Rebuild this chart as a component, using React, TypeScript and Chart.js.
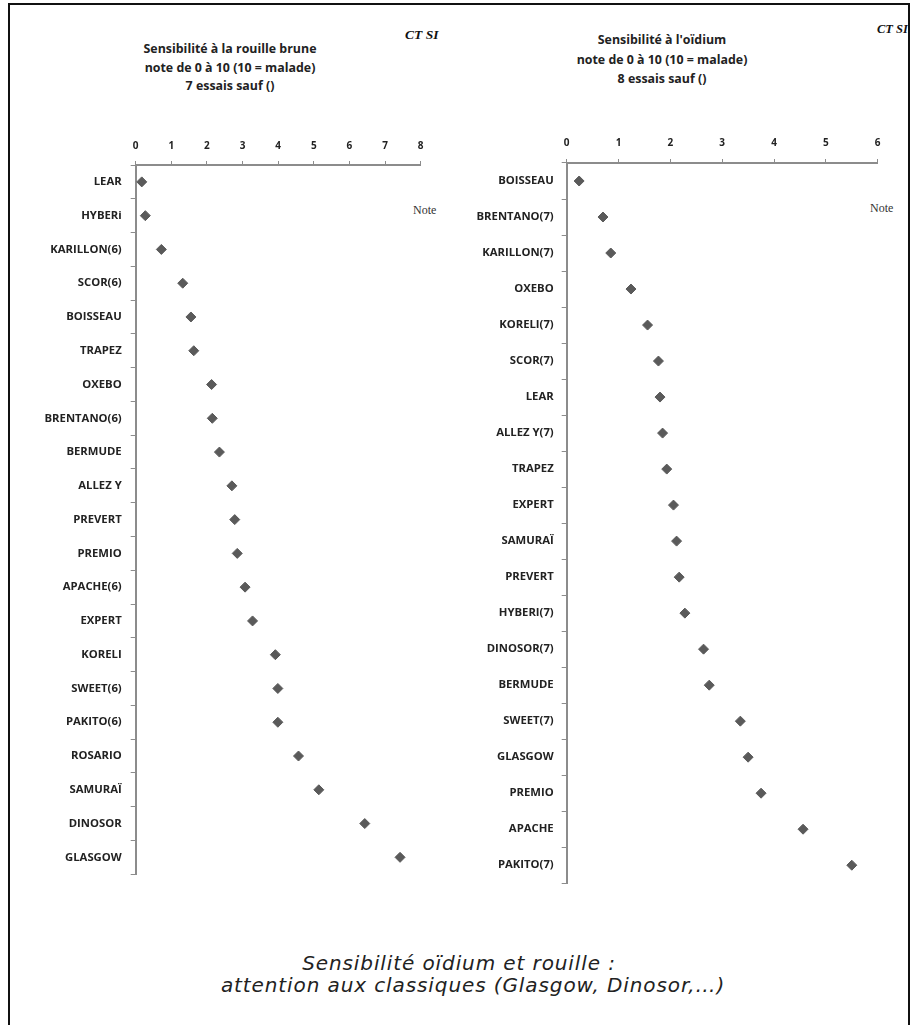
import React, { useEffect, useRef } from "react";
import { Chart, registerables } from "chart.js";

Chart.register(...registerables);

const rustLabels = [
  "LEAR", "HYBERi", "KARILLON(6)", "SCOR(6)", "BOISSEAU", "TRAPEZ", "OXEBO",
  "BRENTANO(6)", "BERMUDE", "ALLEZ Y", "PREVERT", "PREMIO", "APACHE(6)", "EXPERT",
  "KORELI", "SWEET(6)", "PAKITO(6)", "ROSARIO", "SAMURAÏ", "DINOSOR", "GLASGOW",
];
const rustValues = [
  0.17, 0.27, 0.72, 1.32, 1.55, 1.63, 2.13, 2.15, 2.35, 2.7, 2.78, 2.85, 3.07, 3.28,
  3.92, 3.99, 3.99, 4.57, 5.14, 6.43, 7.42,
];
const rustMax = 8;

const mildewLabels = [
  "BOISSEAU", "BRENTANO(7)", "KARILLON(7)", "OXEBO", "KORELI(7)", "SCOR(7)", "LEAR",
  "ALLEZ Y(7)", "TRAPEZ", "EXPERT", "SAMURAÏ", "PREVERT", "HYBERI(7)", "DINOSOR(7)",
  "BERMUDE", "SWEET(7)", "GLASGOW", "PREMIO", "APACHE", "PAKITO(7)",
];
const mildewValues = [
  0.24, 0.7, 0.85, 1.24, 1.56, 1.77, 1.8, 1.85, 1.93, 2.06, 2.12, 2.17, 2.28, 2.64,
  2.75, 3.35, 3.5, 3.75, 4.56, 5.5,
];
const mildewMax = 6;

const rustTitle = ["Sensibilité à la rouille brune", "note de 0 à 10 (10 = malade)", "7 essais sauf ()"];
const mildewTitle = ["Sensibilité à l'oïdium", "note de 0 à 10 (10 = malade)", "8 essais sauf ()"];
const caption = ["Sensibilité oïdium et rouille :", "attention aux classiques (Glasgow, Dinosor,…)"];

const LABEL_FONT = "'Open Sans', 'Noto Sans', sans-serif";
const AXIS = "#8c8c8c";
const TEXT = "#222";
const MARK = "#5a5a5a";

type PanelProps = {
  labels: string[];
  values: number[];
  max: number;
  left: number;
  top: number;
  width: number;
  height: number;
  yWidth: number;
  padRight: number;
  padBottom: number;
  xPad: number;
  yPad: number;
};

function Panel(p: PanelProps) {
  const ref = useRef<HTMLCanvasElement | null>(null);
  useEffect(() => {
    if (!ref.current) return;
    const chart = new Chart(ref.current, {
      type: "line",
      data: {
        labels: p.labels,
        datasets: [
          {
            data: p.values,
            showLine: false,
            pointStyle: "rectRot",
            pointRadius: 5,
            pointHoverRadius: 5,
            pointBackgroundColor: MARK,
            pointBorderColor: MARK,
            pointBorderWidth: 1,
          },
        ],
      },
      options: {
        indexAxis: "y",
        responsive: false,
        animation: false,
        layout: { padding: { left: 0, top: 0, right: p.padRight, bottom: p.padBottom } },
        plugins: { legend: { display: false }, tooltip: { enabled: false }, title: { display: false } },
        scales: {
          x: {
            type: "linear",
            position: "top",
            min: 0,
            max: p.max,
            ticks: {
              stepSize: 1,
              padding: p.xPad,
              color: TEXT,
              font: { family: LABEL_FONT, size: 10, weight: "bold" },
            },
            grid: { drawOnChartArea: false, drawTicks: true, tickLength: 4, color: AXIS, lineWidth: 1 },
            border: { color: AXIS, width: 2 },
            afterFit: (s: any) => {
              s.height = 45;
            },
          },
          y: {
            type: "category",
            offset: true,
            ticks: {
              autoSkip: false,
              padding: p.yPad,
              color: TEXT,
              font: { family: LABEL_FONT, size: 11.3, weight: "bold" },
            },
            grid: { offset: true, drawOnChartArea: false, drawTicks: true, tickLength: 5, color: AXIS, lineWidth: 1 },
            border: { color: AXIS, width: 2 },
            afterFit: (s: any) => {
              s.width = p.yWidth;
            },
          },
        },
      },
    } as any);
    return () => chart.destroy();
  }, []);
  return (
    <canvas
      ref={ref}
      width={p.width}
      height={p.height}
      style={{ position: "absolute", left: p.left, top: p.top, width: p.width, height: p.height }}
    />
  );
}

const abs = (o: React.CSSProperties): React.CSSProperties => ({ position: "absolute", margin: 0, ...o });

export default function App() {
  useEffect(() => {
    document.body.style.overflow = "hidden";
  }, []);
  const titleStyle: React.CSSProperties = {
    fontFamily: LABEL_FONT,
    fontWeight: 700,
    fontSize: 12.4,
    color: TEXT,
    textAlign: "center",
    lineHeight: "18.5px",
    whiteSpace: "nowrap",
  };
  const ctStyle: React.CSSProperties = {
    fontFamily: "'Liberation Serif', serif",
    fontWeight: 700,
    fontStyle: "italic",
    color: "#111",
    whiteSpace: "nowrap",
    lineHeight: "14px",
  };
  const noteStyle: React.CSSProperties = {
    fontFamily: "'Liberation Serif', serif",
    fontSize: 12,
    color: "#333",
    lineHeight: "14px",
  };
  const capStyle: React.CSSProperties = {
    textAlign: "center",
    fontFamily: "'DejaVu Sans', Verdana, sans-serif",
    fontStyle: "italic",
    fontSize: 20,
    letterSpacing: 0.9,
    color: "#222",
    lineHeight: "22px",
    whiteSpace: "nowrap",
  };
  return (
    <div>
      <div
        style={abs({
          left: 8,
          top: 3,
          width: 902,
          height: 1022,
          boxSizing: "border-box",
          borderLeft: "2px solid #111",
          borderTop: "2px solid #111",
          borderRight: "2px solid #111",
        })}
      />
      <div style={abs({ left: 130, top: 40, width: 200, ...titleStyle })}>
        {rustTitle.map((t, i) => (
          <div key={i}>{t}</div>
        ))}
      </div>
      <div style={abs({ left: 562, top: 30, width: 200, ...titleStyle, lineHeight: "19.5px" })}>
        {mildewTitle.map((t, i) => (
          <div key={i}>{t}</div>
        ))}
      </div>
      <div style={abs({ left: 405, top: 28, width: 35, overflow: "hidden", fontSize: 13.5, ...ctStyle })}>CT SI</div>
      <div style={abs({ left: 877, top: 22, fontSize: 12.5, ...ctStyle })}>CT SI</div>
      <div style={abs({ left: 413, top: 203, ...noteStyle })}>Note</div>
      <div style={abs({ left: 870, top: 201, ...noteStyle })}>Note</div>

      <Panel
        labels={rustLabels}
        values={rustValues}
        max={rustMax}
        left={0}
        top={120}
        width={440}
        height={770}
        yWidth={135.7}
        padRight={19.3}
        padBottom={13}
        xPad={9}
        yPad={9}
      />
      <Panel
        labels={mildewLabels}
        values={mildewValues}
        max={mildewMax}
        left={460}
        top={118}
        width={440}
        height={780}
        yWidth={106.7}
        padRight={22.3}
        padBottom={10}
        xPad={10}
        yPad={8}
      />

      <div style={abs({ left: 159, top: 952, width: 600, ...capStyle })}>{caption[0]}</div>
      <div style={abs({ left: 123, top: 974, width: 700, ...capStyle })}>{caption[1]}</div>
    </div>
  );
}
